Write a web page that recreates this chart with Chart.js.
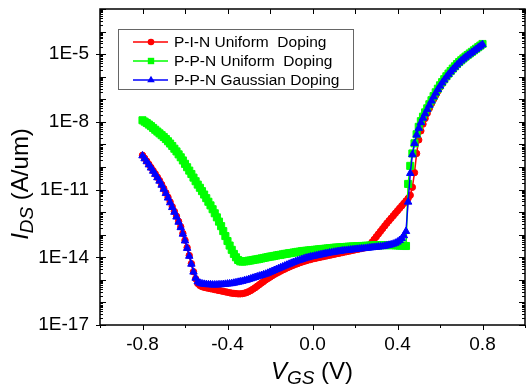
<!DOCTYPE html>
<html>
<head>
<meta charset="utf-8">
<script src="https://cdn.jsdelivr.net/npm/chart.js@4.4.1/dist/chart.umd.min.js"></script>
<style>
  html, body { margin: 0; padding: 0; background: #fff; }
  #wrap { width: 526px; height: 385px; }
</style>
</head>
<body>
<div id="wrap"><canvas id="ivChart" width="526" height="385"></canvas></div>
<script>
// gate voltage sweep (V)
const vgs = [
  -0.80, -0.79, -0.78, -0.77, -0.76, -0.75, -0.74, -0.73, -0.72, -0.71,
  -0.70, -0.69, -0.68, -0.67, -0.66, -0.65, -0.64, -0.63, -0.62, -0.61,
  -0.60, -0.59, -0.58, -0.57, -0.56, -0.55, -0.54, -0.53, -0.52, -0.51,
  -0.50, -0.49, -0.48, -0.47, -0.46, -0.45, -0.44, -0.43, -0.42, -0.41,
  -0.40, -0.39, -0.38, -0.37, -0.36, -0.35, -0.34, -0.33, -0.32, -0.31,
  -0.30, -0.29, -0.28, -0.27, -0.26, -0.25, -0.24, -0.23, -0.22, -0.21,
  -0.20, -0.19, -0.18, -0.17, -0.16, -0.15, -0.14, -0.13, -0.12, -0.11,
  -0.10, -0.09, -0.08, -0.07, -0.06, -0.05, -0.04, -0.03, -0.02, -0.01,
  0.00, 0.01, 0.02, 0.03, 0.04, 0.05, 0.06, 0.07, 0.08, 0.09,
  0.10, 0.11, 0.12, 0.13, 0.14, 0.15, 0.16, 0.17, 0.18, 0.19,
  0.20, 0.21, 0.22, 0.23, 0.24, 0.25, 0.26, 0.27, 0.28, 0.29,
  0.30, 0.31, 0.32, 0.33, 0.34, 0.35, 0.36, 0.37, 0.38, 0.39,
  0.40, 0.41, 0.42, 0.43, 0.44, 0.45, 0.46, 0.47, 0.48, 0.49,
  0.50, 0.51, 0.52, 0.53, 0.54, 0.55, 0.56, 0.57, 0.58, 0.59,
  0.60, 0.61, 0.62, 0.63, 0.64, 0.65, 0.66, 0.67, 0.68, 0.69,
  0.70, 0.71, 0.72, 0.73, 0.74, 0.75, 0.76, 0.77, 0.78, 0.79,
  0.80
];

// log10 of I_DS (A/um)
const pinLogI = [
  -9.48, -9.61, -9.74, -9.88, -10.02, -10.16, -10.30, -10.45, -10.60, -10.77,
  -10.95, -11.14, -11.34, -11.55, -11.76, -11.97, -12.18, -12.41, -12.65, -12.94,
  -13.24, -13.57, -13.92, -14.28, -14.64, -14.95, -15.16, -15.25, -15.30, -15.33,
  -15.35, -15.37, -15.39, -15.41, -15.43, -15.45, -15.47, -15.49, -15.51, -15.53,
  -15.55, -15.57, -15.59, -15.60, -15.61, -15.62, -15.62, -15.61, -15.59, -15.56,
  -15.52, -15.47, -15.41, -15.35, -15.28, -15.21, -15.14, -15.07, -15.00, -14.94,
  -14.88, -14.82, -14.76, -14.71, -14.66, -14.61, -14.56, -14.52, -14.47, -14.43,
  -14.39, -14.35, -14.31, -14.28, -14.24, -14.21, -14.18, -14.15, -14.12, -14.10,
  -14.07, -14.05, -14.03, -14.01, -13.99, -13.97, -13.95, -13.93, -13.91, -13.89,
  -13.87, -13.85, -13.83, -13.81, -13.79, -13.77, -13.75, -13.73, -13.71, -13.69,
  -13.67, -13.65, -13.63, -13.61, -13.59, -13.57, -13.52, -13.44, -13.33, -13.21,
  -13.09, -12.97, -12.85, -12.73, -12.61, -12.49, -12.38, -12.27, -12.16, -12.05,
  -11.94, -11.83, -11.72, -11.61, -11.50, -11.39, -11.25, -10.90, -10.25, -9.40,
  -8.80, -8.40, -8.10, -7.85, -7.62, -7.40, -7.19, -7.00, -6.82, -6.64,
  -6.47, -6.31, -6.17, -6.03, -5.91, -5.79, -5.68, -5.58, -5.48, -5.39,
  -5.30, -5.22, -5.14, -5.07, -5.00, -4.93, -4.86, -4.79, -4.72, -4.65,
  -4.58
];

const ppnUniformLogI = [
  -7.93, -7.99, -8.05, -8.12, -8.19, -8.27, -8.35, -8.43, -8.51, -8.59,
  -8.67, -8.76, -8.86, -8.96, -9.07, -9.19, -9.31, -9.44, -9.57, -9.71,
  -9.86, -10.01, -10.16, -10.31, -10.47, -10.63, -10.78, -10.92, -11.07, -11.22,
  -11.38, -11.54, -11.70, -11.87, -12.05, -12.23, -12.42, -12.62, -12.84, -13.06,
  -13.28, -13.48, -13.67, -13.85, -14.00, -14.12, -14.18, -14.19, -14.18, -14.17,
  -14.15, -14.14, -14.12, -14.10, -14.09, -14.07, -14.05, -14.03, -14.01, -13.99,
  -13.97, -13.96, -13.94, -13.92, -13.90, -13.89, -13.87, -13.85, -13.84, -13.82,
  -13.81, -13.79, -13.78, -13.76, -13.75, -13.73, -13.72, -13.71, -13.70, -13.69,
  -13.68, -13.67, -13.66, -13.65, -13.64, -13.63, -13.62, -13.61, -13.60, -13.59,
  -13.58, -13.57, -13.57, -13.56, -13.55, -13.55, -13.54, -13.53, -13.53, -13.52,
  -13.52, -13.51, -13.51, -13.50, -13.50, -13.49, -13.49, -13.48, -13.48, -13.47,
  -13.47, -13.47, -13.46, -13.46, -13.46, -13.46, -13.46, -13.46, -13.46, -13.47,
  -13.47, -13.48, -13.48, -13.49, -13.50, -10.75, -9.95, -9.40, -8.95, -8.55,
  -8.22, -7.97, -7.77, -7.58, -7.40, -7.22, -7.04, -6.86, -6.69, -6.53,
  -6.38, -6.24, -6.11, -5.98, -5.86, -5.75, -5.64, -5.54, -5.44, -5.35,
  -5.27, -5.19, -5.11, -5.04, -4.97, -4.90, -4.83, -4.76, -4.69, -4.62,
  -4.55
];

const ppnGaussianLogI = [
  -9.50, -9.63, -9.76, -9.90, -10.04, -10.18, -10.32, -10.47, -10.62, -10.80,
  -10.98, -11.17, -11.37, -11.58, -11.79, -12.00, -12.21, -12.44, -12.68, -12.97,
  -13.27, -13.60, -13.95, -14.30, -14.65, -14.92, -15.08, -15.14, -15.17, -15.19,
  -15.20, -15.21, -15.21, -15.22, -15.22, -15.22, -15.21, -15.21, -15.20, -15.19,
  -15.18, -15.17, -15.16, -15.14, -15.12, -15.10, -15.08, -15.06, -15.03, -15.01,
  -14.98, -14.95, -14.92, -14.89, -14.86, -14.83, -14.80, -14.77, -14.74, -14.70,
  -14.66, -14.62, -14.58, -14.54, -14.50, -14.46, -14.42, -14.38, -14.34, -14.30,
  -14.26, -14.22, -14.19, -14.15, -14.12, -14.09, -14.06, -14.03, -14.01, -13.98,
  -13.96, -13.94, -13.92, -13.90, -13.88, -13.86, -13.84, -13.82, -13.80, -13.79,
  -13.77, -13.76, -13.74, -13.73, -13.71, -13.70, -13.69, -13.68, -13.67, -13.66,
  -13.65, -13.64, -13.63, -13.62, -13.61, -13.60, -13.59, -13.58, -13.57, -13.56,
  -13.55, -13.54, -13.53, -13.52, -13.50, -13.48, -13.46, -13.44, -13.41, -13.37,
  -13.32, -13.25, -13.16, -13.04, -12.85, -11.55, -10.28, -9.45, -8.95, -8.58,
  -8.28, -8.03, -7.83, -7.64, -7.45, -7.26, -7.07, -6.89, -6.72, -6.56,
  -6.41, -6.27, -6.14, -6.01, -5.89, -5.78, -5.67, -5.57, -5.47, -5.38,
  -5.29, -5.21, -5.13, -5.06, -4.99, -4.92, -4.85, -4.78, -4.71, -4.64,
  -4.57
];

const seriesLabels = ['P-I-N Uniform  Doping', 'P-P-N Uniform  Doping', 'P-P-N Gaussian Doping'];
const seriesColors = ['#ff0000', '#00ff00', '#0000ff'];
const seriesMarkers = ['circle', 'rect', 'triangle'];

const xTickValues = [-0.8, -0.4, 0.0, 0.4, 0.8];
const xMinorTicks = [-1.0, -0.6, -0.2, 0.2, 0.6, 1.0];
const yTickValues = [1e-17, 1e-14, 1e-11, 1e-8, 1e-5];

const FONT = "'Liberation Sans', Arial, Helvetica, sans-serif";

function toPoints(logs) {
  return vgs.map((v, i) => ({ x: v, y: Math.pow(10, logs[i]) }));
}

function makeDataset(i, logs, radius, order) {
  return {
    label: seriesLabels[i],
    data: toPoints(logs),
    borderColor: seriesColors[i],
    backgroundColor: seriesColors[i],
    borderWidth: 1.5,
    pointStyle: seriesMarkers[i],
    pointRadius: radius,
    pointBorderWidth: 1,
    pointBackgroundColor: seriesColors[i],
    pointBorderColor: seriesColors[i],
    tension: 0,
    order: order
  };
}

// frame, tick marks, axis titles and boxed legend
const decorations = {
  id: 'decorations',
  beforeDatasetsDraw(chart) {
    const { ctx, chartArea: a, scales: { x, y } } = chart;
    ctx.save();
    ctx.strokeStyle = '#000';
    ctx.lineWidth = 1.5;
    ctx.strokeRect(a.left, a.top, a.right - a.left, a.bottom - a.top);

    ctx.lineWidth = 1;
    ctx.beginPath();
    for (let e = -17; e <= -3; e++) {
      for (let m = 1; m <= 9; m++) {
        const v = m * Math.pow(10, e);
        if (Math.log10(v) > Math.log10(y.max) + 1e-9) break;
        const py = Math.round(y.getPixelForValue(v)) + 0.5;
        const len = m === 1 ? 6 : 3;
        ctx.moveTo(a.left, py); ctx.lineTo(a.left + len, py);
        ctx.moveTo(a.right, py); ctx.lineTo(a.right - len, py);
        const labelled = m === 1 && yTickValues.some(t => Math.abs(Math.log10(t) - e) < 1e-6);
        if (labelled) { ctx.moveTo(a.left, py); ctx.lineTo(a.left - 4, py); }
      }
    }
    xTickValues.concat(xMinorTicks).forEach(v => {
      const px = Math.round(x.getPixelForValue(v)) + 0.5;
      const major = xTickValues.includes(v);
      ctx.moveTo(px, a.bottom); ctx.lineTo(px, a.bottom + (major ? 5 : 3));
      ctx.moveTo(px, a.top); ctx.lineTo(px, a.top + 5);
    });
    ctx.stroke();
    ctx.restore();
  },
  afterDraw(chart) {
    const { ctx } = chart;
    ctx.save();
    ctx.fillStyle = '#000';
    ctx.textBaseline = 'alphabetic';
    ctx.textAlign = 'left';

    // x title: V_GS (V)
    const big = 'italic 24px ' + FONT, sub = 'italic 19px ' + FONT, plain = '24px ' + FONT;
    ctx.font = big; const wV = ctx.measureText('V').width;
    ctx.font = sub; const wGS = ctx.measureText('GS').width;
    ctx.font = plain; const wU = ctx.measureText(' (V)').width;
    const sx = 312 - (wV + wGS + wU) / 2;
    const by = 379;
    ctx.font = big; ctx.fillText('V', sx, by);
    ctx.font = sub; ctx.fillText('GS', sx + wV, by + 5);
    ctx.font = plain; ctx.fillText(' (V)', sx + wV + wGS, by);

    // y title: I_DS (A/um), reading upwards
    ctx.font = big; const wI = ctx.measureText('I').width;
    ctx.font = sub; const wDS = ctx.measureText('DS').width;
    ctx.font = plain; const wA = ctx.measureText(' (A/um)').width;
    const total = wI + wDS + wA;
    ctx.save();
    ctx.translate(28, 184 + total / 2);
    ctx.rotate(-Math.PI / 2);
    ctx.font = big; ctx.fillText('I', 0, 0);
    ctx.font = sub; ctx.fillText('DS', wI, 5);
    ctx.font = plain; ctx.fillText(' (A/um)', wI + wDS, 0);
    ctx.restore();

    // legend box
    const box = { left: 118, top: 29, width: 235, height: 60 };
    ctx.strokeStyle = '#666';
    ctx.lineWidth = 1;
    ctx.strokeRect(box.left + 0.5, box.top + 0.5, box.width, box.height);
    const rows = [42, 61, 80];
    chart.data.datasets.forEach((ds, i) => {
      const ry = rows[i];
      ctx.strokeStyle = ds.borderColor;
      ctx.fillStyle = ds.borderColor;
      ctx.lineWidth = 1.5;
      ctx.beginPath();
      ctx.moveTo(133, ry); ctx.lineTo(168, ry);
      ctx.stroke();
      const cx = 151;
      ctx.beginPath();
      if (ds.pointStyle === 'circle') {
        ctx.arc(cx, ry, 3.3, 0, Math.PI * 2);
      } else if (ds.pointStyle === 'rect') {
        ctx.rect(cx - 3.2, ry - 3.2, 6.4, 6.4);
      } else {
        ctx.moveTo(cx, ry - 4.2); ctx.lineTo(cx + 3.8, ry + 2.3); ctx.lineTo(cx - 3.8, ry + 2.3);
        ctx.closePath();
      }
      ctx.fill();
      ctx.fillStyle = '#000';
      ctx.font = '15.5px ' + FONT;
      ctx.textBaseline = 'middle';
      ctx.fillText(ds.label, 174, ry + 1);
    });
    ctx.restore();
  }
};

new Chart(document.getElementById('ivChart'), {
  type: 'line',
  data: {
    datasets: [
      makeDataset(0, pinLogI, 3.2, 2),
      makeDataset(1, ppnUniformLogI, 5, 1),
      makeDataset(2, ppnGaussianLogI, 4.3, 0)
    ]
  },
  options: {
    responsive: false,
    animation: false,
    devicePixelRatio: 1,
    layout: { autoPadding: false, padding: { top: 9, right: 1, left: 0, bottom: 0 } },
    plugins: {
      legend: { display: false },
      tooltip: { enabled: false }
    },
    scales: {
      x: {
        type: 'linear',
        min: -1,
        max: 1,
        grid: { display: false, drawTicks: false },
        border: { display: false },
        ticks: {
          color: '#000',
          font: { family: FONT, size: 19 },
          padding: 8,
          autoSkip: false,
          maxRotation: 0,
          callback: v => v.toFixed(1)
        },
        afterBuildTicks: s => { s.ticks = xTickValues.map(v => ({ value: v })); },
        afterFit: s => { s.height = 60; s.paddingLeft = 0; s.paddingRight = 0; }
      },
      y: {
        type: 'logarithmic',
        min: 1e-17,
        max: 1e-3,
        grid: { display: false, drawTicks: false },
        border: { display: false },
        ticks: {
          color: '#000',
          font: { family: FONT, size: 19 },
          padding: 11,
          autoSkip: false,
          callback: v => '1E' + Math.round(Math.log10(v))
        },
        afterBuildTicks: s => { s.ticks = yTickValues.map(v => ({ value: v })); },
        afterFit: s => { s.width = 100; s.paddingTop = 0; s.paddingBottom = 0; }
      }
    }
  },
  plugins: [decorations]
});
</script>
</body>
</html>
